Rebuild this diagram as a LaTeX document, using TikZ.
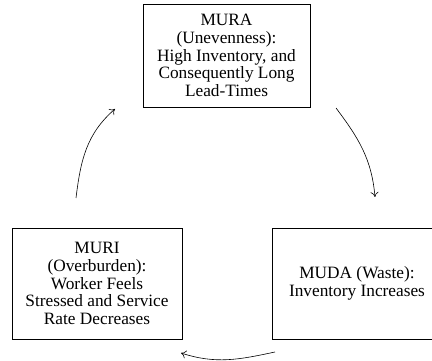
\documentclass[tikz,border=0pt]{standalone}
\usepackage{fontspec}
\setmainfont{Liberation Serif}
\usetikzlibrary{arrows.meta}
\begin{document}
\begin{tikzpicture}[x=1pt,y=-1pt,
  box/.style={draw=black, line width=0.8pt, rectangle, align=center, inner sep=0pt,
    font=\fontsize{17.3}{17.8}\selectfont},
  cyc/.style={draw=black, line width=0.6pt, -{To[length=5pt,width=8pt]}}]
\useasboundingbox (0,0) rectangle (432,361);
\clip (0,0) rectangle (432,361);
\node[box, minimum width=167pt, minimum height=103pt] (mura) at (226.5,55.5)
  {MURA\\(Unevenness):\\High Inventory, and\\Consequently Long\\Lead-Times};
\node[box, minimum width=170pt, minimum height=111pt] (muri) at (97,283.5)
  {MURI\\(Overburden):\\Worker Feels\\Stressed and Service\\Rate Decreases};
\node[box, minimum width=170pt, minimum height=111pt] (muda) at (357,283.5)
  {MUDA (Waste):\\Inventory Increases};
\coordinate (a1s) at (336,108);
\coordinate (a1e) at (375,197);
\coordinate (a2s) at (275,352);
\coordinate (a2e) at (181,353);
\coordinate (a3s) at (76,198);
\coordinate (a3e) at (115,109);
\draw[cyc] (a1s) to[out=-53, in=95] (a1e);
\draw[cyc] (a2s) to[out=192, in=-18] (a2e);
\draw[cyc] (a3s) to[out=83, in=-139] (a3e);
\end{tikzpicture}
\end{document}
